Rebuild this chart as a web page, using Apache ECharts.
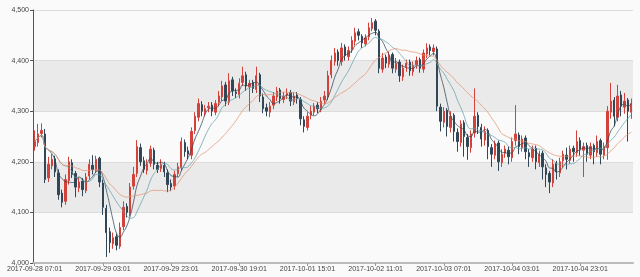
<!DOCTYPE html>
<html>
<head>
<meta charset="utf-8">
<script src="https://cdn.jsdelivr.net/npm/echarts@6/dist/echarts.min.js"></script>
<style>html,body{margin:0;padding:0;background:#fafafa;}#c{width:640px;height:277px;}</style>
</head>
<body>
<div id="c"></div>
<script>
// Hourly categories starting 2017-09-28 07:01
const startTime = '2017-09-28T07:01:00';
const categoryCount = 176;
const yTicks = [4000, 4100, 4200, 4300, 4400, 4500];

const openVals = [
4230,4238,4256,4255,4168,4192,4206,4178,4138,4122,
4163,4198,4177,4148,4162,4143,4172,4193,4183,4207,
4158,4108,4062,4038,4052,4033,4072,4112,4098,4152,
4177,4228,4202,4183,4197,4223,4193,4187,4193,4178,
4157,4152,4177,4188,4238,4222,4213,4262,4288,4313,
4298,4307,4312,4298,4317,4328,4352,4318,4362,4338,
4333,4357,4372,4348,4357,4343,4372,4328,4307,4298,
4312,4328,4342,4323,4332,4337,4318,4332,4323,4283,
4268,4292,4298,4312,4303,4322,4328,4372,4398,4417,
4398,4427,4408,4422,4438,4457,4448,4433,4447,4463,
4478,4458,4383,4407,4393,4412,4383,4397,4368,4387,
4397,4378,4392,4402,4383,4413,4427,4418,4423,4308,
4278,4302,4268,4292,4258,4238,4277,4248,4228,4257,
4292,4268,4243,4262,4228,4213,4237,4198,4217,4223,
4208,4242,4253,4228,4247,4218,4208,4227,4198,4217,
4188,4177,4158,4197,4178,4202,4213,4203,4227,4218,
4242,4223,4232,4213,4232,4218,4242,4213,4228,4298,
4322,4288,4332,4308,4322,4298
];
const closeVals = [
4240,4255,4262,4165,4195,4205,4180,4135,4120,4165,
4200,4175,4150,4160,4145,4170,4195,4185,4205,4160,
4110,4060,4040,4050,4035,4070,4110,4100,4150,4175,
4230,4200,4185,4195,4225,4195,4185,4195,4180,4155,
4150,4175,4190,4240,4220,4215,4260,4290,4315,4300,
4305,4310,4300,4315,4330,4350,4320,4360,4340,4335,
4355,4370,4350,4355,4345,4370,4330,4305,4300,4310,
4330,4340,4325,4330,4335,4320,4330,4325,4285,4270,
4290,4300,4310,4305,4320,4330,4370,4400,4415,4400,
4425,4410,4420,4440,4455,4450,4435,4445,4465,4475,
4460,4385,4405,4395,4410,4385,4395,4370,4385,4395,
4380,4390,4400,4385,4415,4425,4420,4425,4310,4280,
4300,4270,4290,4260,4240,4275,4250,4230,4255,4290,
4270,4245,4260,4230,4215,4235,4200,4215,4225,4210,
4240,4255,4230,4245,4220,4210,4225,4200,4215,4190,
4175,4160,4195,4180,4200,4215,4205,4225,4220,4240,
4225,4230,4215,4230,4220,4240,4215,4230,4300,4320,
4290,4330,4310,4320,4300,4315
];
const lowVals = [
4222,4230,4248,4158,4160,4185,4170,4125,4110,4115,
4155,4168,4130,4140,4132,4138,4165,4175,4178,4150,
4095,4012,4020,4028,4025,4028,4065,4090,4092,4145,
4170,4192,4178,4175,4190,4185,4178,4180,4170,4140,
4142,4145,4170,4182,4210,4205,4205,4255,4280,4290,
4290,4298,4290,4292,4310,4320,4310,4312,4330,4326,
4325,4350,4340,4300,4336,4336,4318,4296,4290,4288,
4304,4320,4315,4316,4324,4310,4312,4315,4272,4258,
4262,4284,4292,4296,4298,4315,4322,4365,4390,4390,
4390,4400,4400,4415,4430,4440,4425,4428,4440,4458,
4450,4375,4376,4385,4386,4375,4376,4358,4360,4378,
4370,4370,4384,4376,4376,4405,4410,4410,4300,4260,
4268,4250,4258,4240,4220,4230,4210,4204,4218,4248,
4255,4230,4232,4205,4190,4205,4182,4190,4208,4195,
4200,4232,4215,4220,4205,4190,4200,4185,4190,4165,
4150,4138,4150,4165,4170,4190,4185,4196,4200,4210,
4212,4170,4200,4205,4195,4210,4195,4205,4204,4285,
4270,4280,4290,4295,4240,4285
];
const highVals = [
4262,4275,4276,4265,4210,4215,4212,4185,4145,4175,
4210,4205,4182,4170,4168,4178,4205,4213,4212,4210,
4165,4115,4070,4060,4058,4080,4122,4118,4158,4190,
4243,4236,4210,4205,4232,4228,4200,4205,4200,4185,
4165,4182,4198,4248,4244,4230,4268,4298,4325,4320,
4312,4318,4318,4322,4340,4360,4358,4375,4368,4345,
4365,4388,4378,4362,4362,4388,4376,4335,4315,4318,
4338,4348,4346,4338,4345,4342,4338,4338,4328,4290,
4298,4310,4316,4318,4328,4340,4380,4410,4425,4422,
4435,4432,4428,4448,4465,4463,4452,4452,4475,4484,
4482,4462,4415,4412,4418,4416,4405,4402,4392,4402,
4402,4398,4408,4406,4422,4434,4432,4432,4428,4315,
4308,4306,4300,4296,4266,4282,4282,4255,4262,4345,
4298,4275,4270,4266,4235,4242,4242,4225,4232,4230,
4248,4312,4258,4252,4252,4225,4232,4232,4222,4222,
4195,4182,4205,4202,4208,4222,4228,4232,4232,4262,
4248,4238,4238,4238,4236,4252,4246,4238,4310,4356,
4328,4352,4340,4336,4326,4325
];

// category labels: one per hour
const categories = [];
(function () {
  const t0 = new Date(startTime).getTime();
  const p = n => (n < 10 ? '0' : '') + n;
  for (let i = 0; i < categoryCount; i++) {
    const d = new Date(t0 + i * 3600000);
    categories.push(d.getFullYear() + '-' + p(d.getMonth() + 1) + '-' + p(d.getDate()) + ' ' + p(d.getHours()) + ':' + p(d.getMinutes()));
  }
})();

const candleData = openVals.map((o, i) => [o, closeVals[i], lowVals[i], highVals[i]]);

function movingAverage(n) {
  const out = [];
  for (let i = 0; i < closeVals.length; i++) {
    const s = Math.max(0, i - n + 1);
    let sum = 0;
    for (let j = s; j <= i; j++) sum += closeVals[j];
    out.push(+(sum / (i - s + 1)).toFixed(2));
  }
  return out;
}

const chart = echarts.init(document.getElementById('c'), null, {renderer: 'canvas'});
const lineStyleBase = {width: 1, opacity: 0.75};
chart.setOption({
  backgroundColor: '#fafafa',
  animation: false,
  grid: {left: 33, right: 7, top: 10, bottom: 14},
  xAxis: {
    type: 'category',
    data: categories,
    boundaryGap: true,
    axisLine: {lineStyle: {color: '#bbb', width: 2}},
    axisTick: {show: true, length: 3, interval: 19, alignWithLabel: true, lineStyle: {color: '#999'}},
    axisLabel: {interval: 19, fontSize: 7, color: '#444', margin: 3, fontFamily: 'Liberation Sans'},
    splitLine: {show: false}
  },
  yAxis: {
    type: 'value',
    min: yTicks[0],
    max: yTicks[yTicks.length - 1],
    interval: 100,
    axisLine: {show: true, lineStyle: {color: '#555'}},
    axisTick: {show: true, length: 3, lineStyle: {color: '#555'}},
    axisLabel: {fontSize: 7, color: '#444', margin: 4, fontFamily: 'Liberation Sans'},
    splitLine: {show: true, lineStyle: {color: '#dcdcdc', width: 1}},
    splitArea: {show: true, areaStyle: {color: ['#fafafa', '#eaeaea']}}
  },
  series: [
    {
      type: 'candlestick',
      data: candleData,
      barWidth: '55%',
      itemStyle: {color: '#d2413a', color0: '#314656', borderColor: '#d2413a', borderColor0: '#314656', borderWidth: 1}
    },
    {type: 'line', name: 'MA5', data: movingAverage(5), smooth: true, showSymbol: false, lineStyle: Object.assign({color: '#2f4554'}, lineStyleBase)},
    {type: 'line', name: 'MA10', data: movingAverage(10), smooth: true, showSymbol: false, lineStyle: Object.assign({color: '#61a0a8'}, lineStyleBase)},
    {type: 'line', name: 'MA20', data: movingAverage(20), smooth: true, showSymbol: false, lineStyle: Object.assign({color: '#e0906f'}, lineStyleBase)}
  ]
});
</script>
</body>
</html>
